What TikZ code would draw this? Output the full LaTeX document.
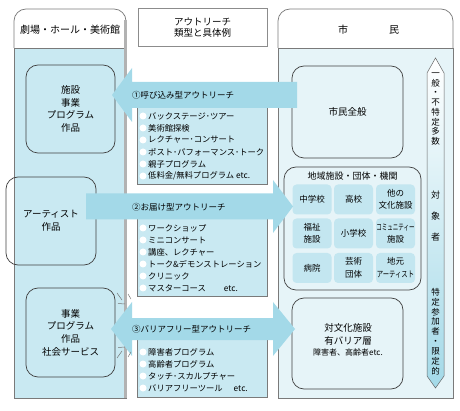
\documentclass[tikz,border=0pt]{standalone}
\usepackage{fontspec}
\setmainfont{Noto Sans CJK JP}
\usetikzlibrary{positioning,calc}
\definecolor{colbody}{HTML}{C9E9F2}
\definecolor{citybody}{HTML}{E6F4F8}
\definecolor{arrowblue}{HTML}{A3D9E8}
\definecolor{cellblue}{HTML}{C3E6F0}
\definecolor{edgegray}{HTML}{7A7A7A}
\newcommand{\boxfont}{\fontsize{9.5}{12.7}\selectfont}

\begin{document}
\begin{tikzpicture}[x=1pt,y=-1pt,
  column/.style={draw=edgegray,line width=0.7pt},
  roundbox/.style={draw=black!75,line width=0.7pt,rounded corners=12pt,align=center,font=\boxfont},
  listbox/.style={draw=edgegray,fill=colbody,line width=0.6pt},
  cell/.style={fill=cellblue,rounded corners=4pt,minimum width=39pt,minimum height=30pt,align=center,inner sep=0pt,font=\fontsize{8.5}{12.5}\selectfont},
  item/.style={anchor=west,inner sep=0pt,font=\fontsize{8.3}{10}\selectfont},
  label/.style={anchor=west,inner sep=0pt,font=\fontsize{8.5}{10}\selectfont},
  vtext/.style={align=center,inner sep=0pt}]
  \useasboundingbox (0,0) rectangle (460,411);
  % columns
  \fill[colbody] (14,48) rectangle (126,398);
  \draw[column,fill=white,rounded corners=12pt] (14,48) -- (14,9) -- (126,9) -- (126,48);
  \draw[column] (14,48) rectangle (126,398);
  \draw[black!30,line width=2.2pt] (125.5,20) -- (125.5,398);
  \node[font=\fontsize{10}{12}\selectfont] (theatre) at (70,30) {劇場・ホール・美術館};
  \draw[black!45,line width=1pt,fill=white] (138,9) rectangle (267,47);
  \node[vtext,font=\fontsize{9.5}{11}\selectfont] (outreach) at (202.5,28) {アウトリーチ\\類型と具体例};
  \fill[citybody] (278,48) rectangle (453,398);
  \draw[column,fill=white,rounded corners=12pt] (278,48) -- (278,9) -- (453,9) -- (453,48);
  \draw[column] (278,48) rectangle (453,398);
  \node[font=\fontsize{10}{12}\selectfont] (city) at (368.5,30) {市\hspace{41pt}民};

  % boxes of the theatre side
  \node[roundbox,minimum width=89pt,minimum height=88pt] (facility) at (70.5,109) {施設\\事業\\プログラム\\作品};
  \node[roundbox,minimum width=90pt,minimum height=88pt] (artist) at (51,221) {アーティスト\\作品};
  \node[roundbox,minimum width=89pt,minimum height=89pt] (service) at (70.5,332.5) {事業\\プログラム\\作品\\社会サービス};

  % boxes of the citizen side
  \node[roundbox,minimum width=111pt,minimum height=92pt] (citizens) at (347.5,112) {市民全般};
  \node[roundbox,minimum width=137pt,minimum height=123pt] (local) at (352.5,228.5) {};
  \node[font=\fontsize{9}{11}\selectfont,inner sep=0pt] (localtitle) at (352.5,176.5) {地域施設・団体・機関};
  \foreach \x/\y/\t [count=\n] in {312/199.5/中学校, 353.5/199.5/高校, 395.5/199.5/{他の\\文化施設},
      312/233.5/{福祉\\施設}, 353.5/233.5/小学校, 395.5/233.5/{\scalebox{0.65}[1]{コミュニティー}\\施設},
      312/268/病院, 353.5/268/{芸術\\団体}, 395.5/268/{地元\\\scalebox{0.75}[1]{アーティスト}}}
    \node[cell] (cell\n) at (\x,\y) {\t};
  \node[roundbox,minimum width=111pt,minimum height=91pt] (barrier) at (347.5,343.5) {};
  \node[vtext,font=\boxfont] (barriertext) at (348,340) {対文化施設\\有バリア層\\[-1pt]{\fontsize{8}{10}\selectfont 障害者、高齢者etc.}};

  % lists
  \draw[listbox] (137,100) rectangle (267,184);
  \draw[listbox] (137,215) rectangle (267,296);
  \draw[listbox] (137,336) rectangle (267,397);
  \foreach \t [count=\i from 0] in {バックステージ･ツアー, 美術館探検, レクチャー･コンサート, ポスト･パフォーマンス･トーク, 親子プログラム, 低料金/無料プログラム etc.} {
    \fill[white] (143,{116+12*\i}) circle (3.5);
    \node[item] (inlist\i) at (148,{116+12*\i}) {\t};
  }
  \foreach \t [count=\i from 0] in {ワークショップ, ミニコンサート, 講座、レクチャー, トーク\&デモンストレーション, クリニック, マスターコース\hspace{18pt}etc.} {
    \fill[white] (143,{228+12*\i}) circle (3.5);
    \node[item] (outlist\i) at (148,{228+12*\i}) {\t};
  }
  \foreach \t [count=\i from 0] in {障害者プログラム, 高齢者プログラム, タッチ･スカルプチャー, バリアフリーツール\hspace{11pt}etc.} {
    \fill[white] (143,{352+12*\i}) circle (3.5);
    \node[item] (freelist\i) at (148,{352+12*\i}) {\t};
  }

  % arrows
  \fill[arrowblue] (297,82) -- (132,82) -- (132,68) -- (112,95) -- (132,122) -- (132,108) -- (297,108) -- cycle;
  \node[label] (invite) at (132,95) {①呼び込み型アウトリーチ};
  \fill[arrowblue] (86,193.5) -- (273,193.5) -- (273,180) -- (293,206.5) -- (273,233) -- (273,219.5) -- (86,219.5) -- cycle;
  \node[label] (deliver) at (132,207) {②お届け型アウトリーチ};
  \fill[arrowblue] (111,329) -- (132,302) -- (132,318) -- (273,318) -- (273,302) -- (295,329) -- (273,356) -- (273,340) -- (132,340) -- (132,356) -- cycle;
  \node[label] (barrierfree) at (132,329) {③バリアフリー型アウトリーチ};
  \draw[black!55,line width=0.5pt] (117,293) -- (122,300) (118,303.5) -- (125,304) (128,294) -- (131,299);
  \draw[black!55,line width=0.5pt] (117,358) -- (122,351) (118,347.5) -- (125,347) (128,357) -- (131,352);

  % target bar
  \shade[top color=white,middle color=arrowblue!90!blue!80,bottom color=arrowblue] (435.5,58) -- (444,73) -- (444,376) -- (435.5,388) -- (427,376) -- (427,73) -- cycle;
  \draw[black!60,line width=0.5pt] (435.5,58) -- (444,73) -- (444,376) -- (435.5,388) -- (427,376) -- (427,73) -- cycle;
  \node[vtext,font=\fontsize{8.5}{9.7}\selectfont] (general) at (435.5,109) {一\\般\\・\\不\\特\\定\\多\\数};
  \node[vtext,font=\fontsize{9}{21}\selectfont] (target) at (435.5,216) {対\\象\\者};
  \node[vtext,font=\fontsize{8.5}{9.9}\selectfont] (specific) at (435.5,331.5) {特\\定\\参\\加\\者\\・\\限\\定\\的};
\end{tikzpicture}
\end{document}
